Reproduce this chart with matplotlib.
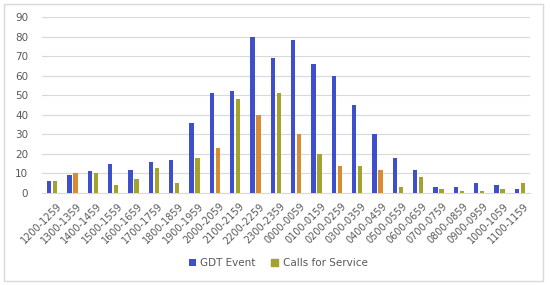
import matplotlib.pyplot as plt
from matplotlib.patches import Rectangle
import numpy as np

hours = ["1200-1259", "1300-1359", "1400-1459", "1500-1559", "1600-1659", "1700-1759",
         "1800-1859", "1900-1959", "2000-2059", "2100-2159", "2200-2259", "2300-2359",
         "0000-0059", "0100-0159", "0200-0259", "0300-0359", "0400-0459", "0500-0559",
         "0600-0659", "0700-0759", "0800-0859", "0900-0959", "1000-1059", "1100-1159"]
gdt_event = [6, 9, 11, 15, 12, 16, 17, 36, 51, 52, 80, 69,
             78, 66, 60, 45, 30, 18, 12, 3, 3, 5, 4, 2]
calls_for_service = [6, 10, 10, 4, 7, 13, 5, 18, 23, 48, 40, 51,
                     30, 20, 14, 14, 12, 3, 8, 2, 1, 1, 2, 5]

# the reference bars shift between olive and orange
olive, orange = "#a3a22c", "#d98b32"
calls_colors = [olive, orange, olive, olive, olive, olive, olive, olive, orange, olive, orange, olive,
                orange, olive, orange, olive, orange, olive, olive, olive, olive, olive, olive, olive]

fig = plt.figure(figsize=(5.5, 2.85), dpi=100)
ax = fig.add_axes([42 / 550, 1 - 193 / 285, 488 / 550, 176 / 285])

x = np.arange(len(hours))
w = 0.21
ax.bar(x - 0.15, gdt_event, width=w, color="#3d4fcb", label="GDT Event", zorder=3)
ax.bar(x + 0.15, calls_for_service, width=w, color=calls_colors, label="Calls for Service", zorder=3)

ax.set_xlim(-0.5, len(hours) - 0.5)
ax.set_ylim(0, 90)
ax.set_yticks(range(0, 91, 10))
ax.grid(axis="y", color="#d9d9d9", linewidth=0.8, zorder=0)
for s in ["top", "right", "left"]:
    ax.spines[s].set_visible(False)
ax.spines["bottom"].set_color("#d9d9d9")
ax.tick_params(length=0, colors="#595959", labelsize=7.5)
ax.tick_params(axis="y", pad=10)
ax.tick_params(axis="x", pad=6)
ax.set_xticks(x + 0.2)
ax.set_xticklabels(hours, rotation=45, ha="right", rotation_mode="anchor", fontsize=7)

handles, labels = ax.get_legend_handles_labels()
leg = fig.legend(handles, labels, loc="center", bbox_to_anchor=(278 / 550, 1 - 263 / 285), ncol=2,
                 frameon=False, fontsize=7.5, handlelength=0.7, handleheight=0.7,
                 columnspacing=1.5, handletextpad=0.4, labelcolor="#595959")
leg.legend_handles[1].set_color(olive)

fig.patches.append(Rectangle((4 / 550, 4 / 285), 539 / 550, 277 / 285, transform=fig.transFigure,
                             fill=False, edgecolor="#d9d9d9", linewidth=1))

fig.savefig("out.png", dpi=100)
